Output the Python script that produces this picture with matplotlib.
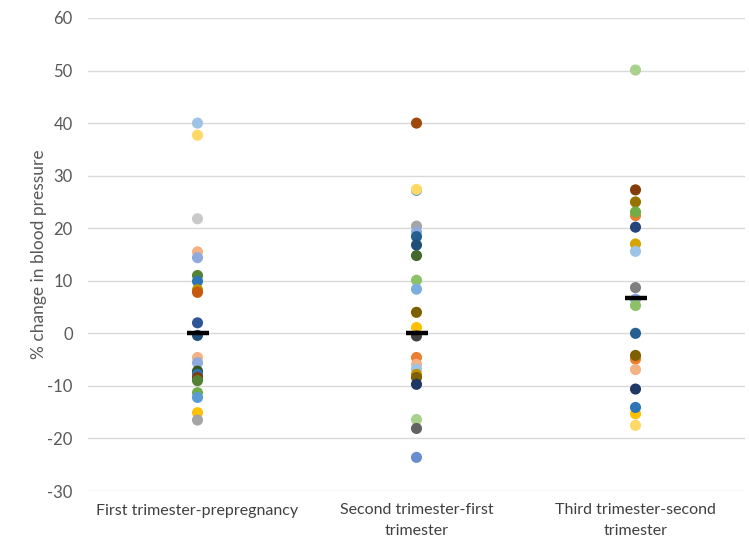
import numpy as np
import matplotlib.pyplot as plt

plt.rcParams['font.family'] = ['Lato', 'DejaVu Sans']
plt.rcParams['axes.unicode_minus'] = False

# Categories and values (% change in blood pressure)
categories = ['First trimester-prepregnancy', 'Second trimester-first\ntrimester',
              'Third trimester-second\ntrimester']

first_vals = [40, 37.7, 21.8, 15.5, 14.4, 11, 9.9, 8.3, 7.8, 2, -0.4,
              -4.6, -5.6, -7.2, -7.8, -8.4, -9, -11.3, -12.2, -15.1, -16.5]
first_cols = ['#9DC3E6', '#FFD966', '#C9C9C9', '#F4B183', '#8FAADC', '#548235', '#2E75B6',
              '#BF9000', '#C55A11', '#2F5597', '#1F4E79',
              '#F4B183', '#8FAADC', '#375623', '#2E75B6', '#843C0C', '#548235',
              '#70AD47', '#5B9BD5', '#FFC000', '#A5A5A5']

second_vals = [40, 27.2, 27.4, 20.4, 19.3, 18.4, 16.8, 14.8, 10.1, 8.4, 4, 1.1, -0.5,
               -4.6, -5.9, -6.8, -7.8, -8.4, -9.7, -16.4, -18.1, -23.6]
second_cols = ['#9E480E', '#5B9BD5', '#FFD966', '#A5A5A5', '#8FAADC', '#255E91', '#1F4E79',
               '#43682B', '#8CC168', '#7CAFDD', '#7F6000', '#FFC000', '#404040',
               '#ED7D31', '#F4B183', '#9DC3E6', '#BF9000', '#7F6000', '#203864',
               '#A9D18E', '#636363', '#698ED0']

third_vals = [50.1, 27.3, 25, 22.4, 23.1, 20.2, 17, 15.6, 8.7, 6.5, 5.3, 0,
              -4.9, -4.2, -6.9, -10.6, -15.3, -14.1, -17.5]
third_cols = ['#A9D18E', '#843C0C', '#997300', '#ED7D31', '#70AD47', '#264478', '#D6A300',
              '#9DC3E6', '#7F7F7F', '#8FAADC', '#8CC168', '#255E91',
              '#ED7D31', '#7F6000', '#F4B183', '#203864', '#FFC000', '#2E75B6', '#FFD966']

means = [0.1, 0.1, 6.8]

fig = plt.figure(figsize=(7.49, 5.45), dpi=100)
ax = fig.add_axes([88 / 749, 1 - 491 / 545, (745 - 88) / 749, (491 - 18) / 545])

groups = [(first_vals, first_cols), (second_vals, second_cols), (third_vals, third_cols)]
for i, (vals, cols) in enumerate(groups):
    ax.scatter(np.full(len(vals), i), vals, s=64, c=cols, edgecolors='none', zorder=3)

ax.scatter(range(3), means, marker='_', s=270, linewidths=3.2, color='black', zorder=4)

ax.set_xlim(-0.5, 2.5)
ax.set_ylim(-30, 60)
ax.set_yticks(np.arange(-30, 61, 10))
ax.set_xticks(range(3))
ax.set_xticklabels(categories, fontsize=11.5, color='#404040', linespacing=1.55)
ax.grid(axis='y', color='#D9D9D9', linewidth=1)
ax.set_axisbelow(True)
for s in ax.spines.values():
    s.set_visible(False)
ax.tick_params(axis='x', length=0, pad=9)
ax.tick_params(axis='y', length=0, labelsize=12, labelcolor='#595959', pad=11)
ax.set_ylabel('% change in blood pressure', fontsize=12.5, color='#595959', labelpad=0)

fig.savefig('out.png', dpi=100)
